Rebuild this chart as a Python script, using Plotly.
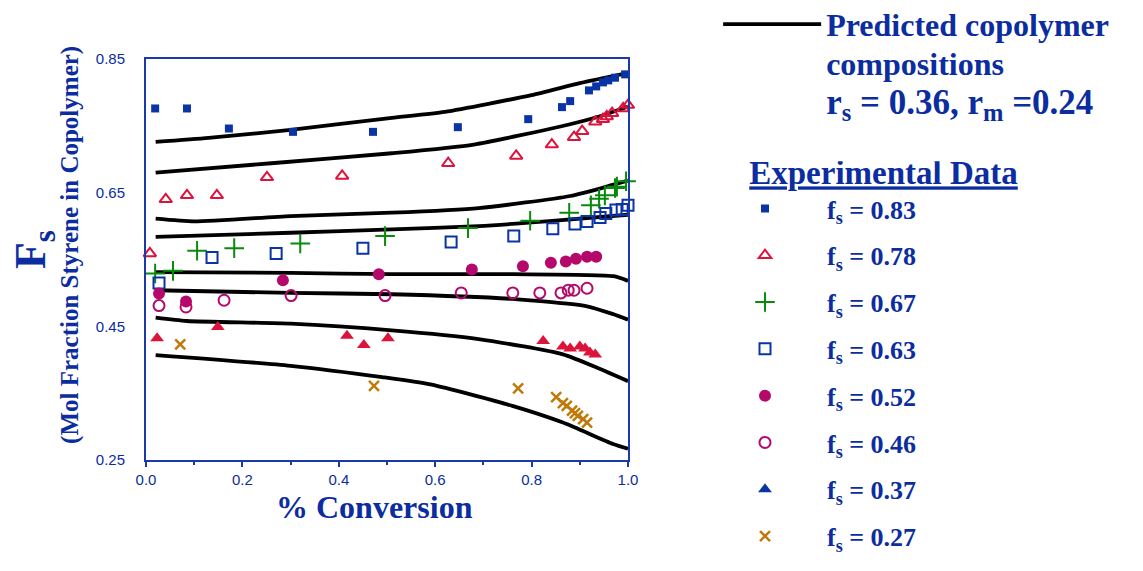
import plotly.graph_objects as go

TEXT = "#0b2d9f"
AXIS = "#1a3aab"

# ---------- Predicted copolymer composition curves ----------
pred_x_83 = [0.02, 0.13, 0.30, 0.51, 0.62, 0.80, 0.90, 1.0]
pred_y_83 = [0.726, 0.732, 0.744, 0.762, 0.771, 0.796, 0.814, 0.829]
pred_x_78 = [0.02, 0.26, 0.51, 0.68, 0.86, 0.94, 1.0]
pred_y_78 = [0.680, 0.694, 0.709, 0.722, 0.749, 0.764, 0.779]
pred_x_67 = [0.02, 0.10, 0.30, 0.51, 0.69, 0.88, 0.97, 1.0]
pred_y_67 = [0.611, 0.607, 0.615, 0.620, 0.627, 0.645, 0.662, 0.668]
pred_x_63 = [0.02, 0.30, 0.51, 0.69, 0.83, 1.0]
pred_y_63 = [0.584, 0.590, 0.595, 0.600, 0.607, 0.617]
pred_x_52 = [0.02, 0.30, 0.51, 0.76, 0.97, 1.0]
pred_y_52 = [0.531, 0.530, 0.528, 0.528, 0.525, 0.518]
pred_x_46 = [0.02, 0.30, 0.51, 0.76, 0.915, 0.97, 1.0]
pred_y_46 = [0.504, 0.500, 0.498, 0.491, 0.480, 0.468, 0.460]
pred_x_37 = [0.02, 0.085, 0.30, 0.51, 0.69, 0.865, 0.936, 1.0]
pred_y_37 = [0.463, 0.458, 0.454, 0.444, 0.431, 0.408, 0.388, 0.368]
pred_x_27 = [0.02, 0.30, 0.49, 0.59, 0.76, 0.865, 0.969, 1.0]
pred_y_27 = [0.407, 0.391, 0.374, 0.363, 0.331, 0.306, 0.274, 0.267]

# ---------- Experimental data ----------
exp_x_83 = [0.019, 0.085, 0.172, 0.305, 0.471, 0.647, 0.793, 0.863, 0.880, 0.919, 0.934, 0.948, 0.959, 0.973, 0.994]
exp_y_83 = [0.776, 0.776, 0.746, 0.741, 0.741, 0.748, 0.760, 0.778, 0.787, 0.803, 0.809, 0.815, 0.818, 0.822, 0.827]
exp_x_78 = [0.008, 0.041, 0.085, 0.147, 0.251, 0.407, 0.627, 0.768, 0.842, 0.888, 0.905, 0.932, 0.948, 0.956, 0.967, 0.990, 1.0]
exp_y_78 = [0.559, 0.640, 0.646, 0.646, 0.673, 0.675, 0.694, 0.705, 0.722, 0.733, 0.742, 0.756, 0.760, 0.764, 0.769, 0.776, 0.781]
exp_x_67 = [0.019, 0.056, 0.106, 0.183, 0.320, 0.496, 0.668, 0.797, 0.878, 0.923, 0.940, 0.952, 0.973, 0.977, 0.996]
exp_y_67 = [0.529, 0.533, 0.563, 0.567, 0.574, 0.585, 0.597, 0.608, 0.620, 0.631, 0.641, 0.646, 0.657, 0.659, 0.667]
exp_x_63 = [0.027, 0.137, 0.270, 0.450, 0.633, 0.763, 0.844, 0.890, 0.915, 0.942, 0.954, 0.975, 0.988, 1.0]
exp_y_63 = [0.515, 0.553, 0.559, 0.567, 0.576, 0.585, 0.596, 0.603, 0.607, 0.613, 0.619, 0.624, 0.625, 0.631]
exp_x_52 = [0.027, 0.083, 0.284, 0.483, 0.676, 0.782, 0.840, 0.871, 0.892, 0.915, 0.934]
exp_y_52 = [0.499, 0.487, 0.519, 0.528, 0.535, 0.540, 0.545, 0.547, 0.551, 0.554, 0.554]
exp_x_46 = [0.027, 0.083, 0.162, 0.301, 0.496, 0.654, 0.761, 0.817, 0.861, 0.876, 0.888, 0.915]
exp_y_46 = [0.481, 0.479, 0.489, 0.496, 0.496, 0.500, 0.500, 0.500, 0.500, 0.504, 0.504, 0.507]
exp_x_37 = [0.023, 0.149, 0.417, 0.452, 0.502, 0.824, 0.865, 0.880, 0.900, 0.911, 0.921, 0.932]
exp_y_37 = [0.432, 0.449, 0.436, 0.422, 0.432, 0.428, 0.420, 0.417, 0.420, 0.417, 0.411, 0.408]
exp_x_27 = [0.071, 0.473, 0.772, 0.851, 0.865, 0.873, 0.884, 0.890, 0.896, 0.907, 0.915]
exp_y_27 = [0.423, 0.361, 0.357, 0.344, 0.335, 0.331, 0.324, 0.320, 0.316, 0.311, 0.306]

x_tick_vals = [0.0, 0.2, 0.4, 0.6, 0.8, 1.0]
x_tick_text = ["0.0", "0.2", "0.4", "0.6", "0.8", "1.0"]
y_tick_vals = [0.25, 0.45, 0.65, 0.85]
y_tick_text = ["0.25", "0.45", "0.65", "0.85"]

pred_curves = [
    (pred_x_83, pred_y_83), (pred_x_78, pred_y_78), (pred_x_67, pred_y_67),
    (pred_x_63, pred_y_63), (pred_x_52, pred_y_52), (pred_x_46, pred_y_46),
    (pred_x_37, pred_y_37), (pred_x_27, pred_y_27),
]

pred_label = ('<span style="font-size:32px">Predicted copolymer</span><br>'
              '<span style="font-size:32px">compositions</span><br>'
              '<span style="font-size:35px">r<sub>s</sub> = 0.36, r<sub>m</sub> =0.24</span>')

fig = go.Figure()

for i, (px, py) in enumerate(pred_curves):
    fig.add_trace(go.Scatter(
        x=px, y=py, mode="lines",
        line=dict(color="black", width=3.8, shape="spline", smoothing=0.6),
        name=pred_label, legend="legend2", showlegend=(i == 0),
        cliponaxis=False,
    ))

exp_series = [
    ("0.83", exp_x_83, exp_y_83, dict(symbol="square", size=8, color="#0a34a6")),
    ("0.78", exp_x_78, exp_y_78, dict(symbol="triangle-up-open", size=11, color="#dc143c", line=dict(width=2, color="#dc143c"))),
    ("0.67", exp_x_67, exp_y_67, dict(symbol="cross-thin-open", size=14, color="#0a8a0a", line=dict(width=2, color="#0a8a0a"))),
    ("0.63", exp_x_63, exp_y_63, dict(symbol="square-open", size=11, color="#0a34a6", line=dict(width=2, color="#0a34a6"))),
    ("0.52", exp_x_52, exp_y_52, dict(symbol="circle", size=12, color="#b5086b")),
    ("0.46", exp_x_46, exp_y_46, dict(symbol="circle-open", size=11, color="#b5086b", line=dict(width=2, color="#b5086b"))),
    ("0.37", exp_x_37, exp_y_37, dict(symbol="triangle-up", size=12, color="#dc143c")),
    ("0.27", exp_x_27, exp_y_27, dict(symbol="x-thin-open", size=10, color="#c07a0a", line=dict(width=2.5, color="#c07a0a"))),
]

for k, (lab, ex, ey, mk) in enumerate(exp_series):
    extra = {}
    if k == 0:
        extra["legendgrouptitle"] = dict(
            text=('<span style="font-size:33px">&nbsp;&nbsp;&nbsp;&nbsp;&nbsp;</span>'
                  '<u><span style="font-size:33px">Experimental Data</span></u>'),
            font=dict(family="Liberation Serif", size=16, color=TEXT, weight="bold"),
        )
    name = "f<sub>s</sub> = " + lab
    if lab == "0.37":
        # data drawn in red; legend key (as in the original) in blue
        fig.add_trace(go.Scatter(x=ex, y=ey, mode="markers", marker=mk,
                                 showlegend=False, cliponaxis=False, legendgroup="e" + lab))
        fig.add_trace(go.Scatter(x=[None], y=[None], mode="markers",
                                 marker=dict(symbol="triangle-up", size=12, color="#0a34a6"),
                                 name=name, legendgroup="e" + lab, **extra))
    else:
        fig.add_trace(go.Scatter(x=ex, y=ey, mode="markers", marker=mk, name=name,
                                 legendgroup="e" + lab, cliponaxis=False, **extra))

fig.update_layout(
    width=1135, height=563,
    margin=dict(l=138, r=515, t=51, b=111, autoexpand=False),
    plot_bgcolor="white", paper_bgcolor="white",
    showlegend=True,
    legend=dict(
        x=1.1556, xanchor="left", y=0.745, yanchor="top",
        font=dict(family="Liberation Serif", size=26, color=TEXT, weight="bold"),
        itemwidth=114, tracegroupgap=10, valign="top", maxheight=1.0,
        bgcolor="rgba(0,0,0,0)", itemclick=False,
    ),
    legend2=dict(
        x=1.187, xanchor="left", y=1.152, yanchor="top",
        font=dict(family="Liberation Serif", size=30, color=TEXT, weight="bold"),
        itemwidth=98, valign="top", maxheight=1.0,
        bgcolor="rgba(0,0,0,0)", itemclick=False,
    ),
    xaxis=dict(
        range=[0, 1.0], tickvals=x_tick_vals, ticktext=x_tick_text,
        showgrid=False, zeroline=False, showline=True, linecolor=AXIS, linewidth=2,
        mirror=True, ticks="outside", ticklen=5, tickwidth=2, tickcolor=AXIS,
        minor=dict(dtick=0.1, ticks="outside", ticklen=3, tickwidth=2, tickcolor=AXIS),
        tickfont=dict(family="Liberation Sans", size=15, color=TEXT),
    ),
    yaxis=dict(
        range=[0.25, 0.85], tickvals=y_tick_vals, ticktext=y_tick_text,
        showgrid=False, zeroline=False, showline=True, linecolor=AXIS, linewidth=2,
        mirror=True, ticks="", ticklabelstandoff=16,
        tickfont=dict(family="Liberation Sans", size=15, color=TEXT),
    ),
    annotations=[
        dict(text="% Conversion", xref="paper", yref="paper", x=0.474, y=-0.117,
             xanchor="center", yanchor="middle", showarrow=False,
             font=dict(family="Liberation Serif", size=32, color=TEXT, weight="bold")),
        dict(text="F<sub>s</sub>", xref="paper", yref="paper", x=-0.232, y=0.524,
             xanchor="center", yanchor="middle", showarrow=False, textangle=-90,
             font=dict(family="Liberation Serif", size=44, color=TEXT, weight="bold")),
        dict(text="(Mol Fraction Styrene in Copolymer)", xref="paper", yref="paper",
             x=-0.158, y=0.536, xanchor="center", yanchor="middle", showarrow=False,
             textangle=-90,
             font=dict(family="Liberation Serif", size=25, color=TEXT, weight="bold")),
    ],
)

fig.write_html("out.html")
